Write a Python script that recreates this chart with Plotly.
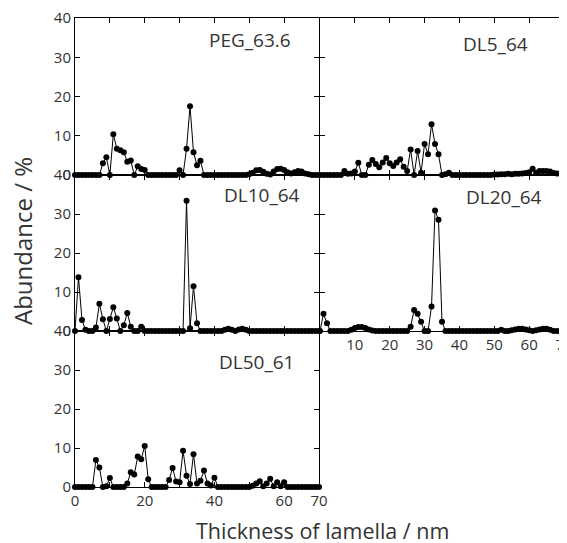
import plotly.graph_objects as go

thickness = list(range(71))

peg_63_6 = [0, 0, 0, 0, 0, 0, 0, 0, 3.0, 4.5,
            0, 10.4, 6.7, 6.3, 5.8, 3.4, 3.7, 0, 2.2, 1.5,
            1.3, 0, 0, 0, 0, 0, 0, 0, 0, 0,
            1.2, 0, 6.7, 17.5, 5.8, 2.5, 3.6, 0, 0, 0,
            0, 0, 0, 0, 0, 0, 0, 0, 0, 0,
            0.2, 0.6, 1.2, 1.3, 0.8, 0.3, 0.1, 0.9, 1.5, 1.6,
            1.3, 0.7, 0.4, 0.7, 1.0, 0.9, 0.4, 0.2, 0, 0,
            0]

dl5_64 = [0, 0, 0, 0, 0, 0, 0, 1.0, 0.3, 0.4,
          0.9, 3.1, 0, 0, 2.6, 3.8, 2.8, 2.0, 3.2, 4.3,
          3.0, 2.3, 3.2, 4.0, 2.1, 1.0, 6.5, 0, 6.1, 0.6,
          7.9, 5.3, 12.9, 7.9, 5.3, 0, 0.2, 0.6, 0, 0,
          0, 0, 0, 0, 0, 0, 0, 0, 0, 0,
          0.1, 0.1, 0.2, 0.2, 0.3, 0.2, 0.3, 0.3, 0.4, 0.5,
          0.7, 1.6, 0.6, 1.0, 1.0, 1.0, 0.9, 0.5, 0.4, 0.4,
          0.3]

dl10_64 = [0, 13.8, 2.8, 0.3, 0, 0, 0.9, 7.0, 3.0, 0,
           3.1, 6.1, 3.2, 0, 1.5, 4.6, 1.1, 0, 0, 1.1,
           0, 0, 0, 0, 0, 0, 0, 0, 0, 0,
           0, 0, 33.4, 0.7, 11.5, 2.0, 0, 0, 0, 0,
           0, 0, 0, 0.3, 0.6, 0.3, 0, 0.4, 0.6, 0.3,
           0, 0, 0, 0, 0, 0, 0, 0, 0, 0,
           0, 0, 0, 0, 0, 0, 0, 0, 0, 0,
           0]

dl20_64 = [0, 4.4, 2.0, 0, 0, 0, 0, 0, 0, 0.3,
           0.8, 1.0, 1.0, 0.8, 0.4, 0.1, 0, 0, 0, 0,
           0, 0, 0, 0, 0, 0, 1.1, 5.4, 4.4, 2.4,
           0, 0, 6.3, 30.9, 28.5, 2.4, 0, 0, 0, 0,
           0, 0, 0, 0, 0, 0, 0, 0, 0, 0,
           0, 0, 0.3, 0, 0, 0.2, 0.4, 0.6, 0.6, 0.4,
           0.2, 0, 0.2, 0.4, 0.6, 0.6, 0.3, 0, 0, 0,
           0]

dl50_61 = [0, 0, 0, 0, 0, 0, 6.9, 5.0, 0, 0.2,
           2.3, 0, 0, 0, 0, 0.9, 3.8, 3.2, 7.8, 7.1,
           10.5, 2.0, 0, 0, 0, 0, 0, 1.8, 4.9, 1.4,
           1.2, 9.3, 2.9, 0.8, 8.4, 0.9, 1.6, 4.2, 0.9, 0.4,
           2.4, 0, 0, 0, 0, 0, 0, 0, 0, 0,
           0, 0.3, 0.9, 1.5, 0.2, 0.9, 2.1, 0.2, 1.2, 0.2,
           1.2, 0, 0, 0, 0, 0, 0, 0, 0, 0,
           0]

panel_names = ["PEG_63.6", "DL5_64", "DL10_64", "DL20_64", "DL50_61"]
series = [peg_63_6, dl5_64, dl10_64, dl20_64, dl50_61]

x_ticks = [0, 10, 20, 30, 40, 50, 60, 70]
x_labels_left = ["0", "", "20", "", "40", "", "60", "70"]
x_labels_right = ["", "10", "20", "30", "40", "50", "60", "70"]
y_ticks = [0, 10, 20, 30, 40]

W, H = 567, 543
OFF = 8  # page body margin offsets the figure inside the window


def px_x(p):
    return (p - OFF) / W


def px_y(p):
    return 1 - (p - OFF) / H


xl = [px_x(75), px_x(319)]
xr = [px_x(320), px_x(564)]
y_top = [px_y(175), px_y(18)]
y_mid = [px_y(331), px_y(175)]
y_bot = [px_y(487), px_y(331)]

domains = [(xl, y_top), (xr, y_top), (xl, y_mid), (xr, y_mid), (xl, y_bot)]

font_family = "Open Sans, Noto Sans, sans-serif"
text_color = "#333333"

fig = go.Figure()
layout = dict(width=W, height=H, margin=dict(l=0, r=0, t=0, b=0, autoexpand=False),
              paper_bgcolor="white", plot_bgcolor="white", showlegend=False,
              font=dict(family=font_family, color=text_color, size=15))

for i, (vals, (dx, dy)) in enumerate(zip(series, domains)):
    n = i + 1
    xa = "x" if n == 1 else f"x{n}"
    ya = "y" if n == 1 else f"y{n}"
    fig.add_trace(go.Scatter(
        x=thickness, y=vals, xaxis=xa, yaxis=ya, mode="lines+markers",
        line=dict(color="black", width=1),
        marker=dict(color="black", size=6),
        cliponaxis=False))
    left = n in (1, 3, 5)
    if n == 4:
        xtl, show_x = x_labels_right, True
    elif n == 5:
        xtl, show_x = x_labels_left, True
    else:
        xtl, show_x = x_labels_left, False
    layout[f"xaxis{'' if n == 1 else n}"] = dict(
        domain=dx, anchor=ya, range=[0, 70], tickvals=x_ticks, ticktext=xtl,
        showticklabels=show_x, ticks="inside", ticklen=5, tickcolor="black",
        showline=True, linecolor="black", linewidth=1, mirror="ticks",
        showgrid=False, zeroline=False, automargin=False,
        ticklabeloverflow="allow",
        tickfont=dict(size=15, color=text_color))
    layout[f"yaxis{'' if n == 1 else n}"] = dict(
        domain=dy, anchor=xa, range=[0, 40], tickvals=y_ticks,
        showticklabels=left, ticks="inside", ticklen=5, tickcolor="black",
        showline=True, linecolor="black", linewidth=1, mirror="ticks",
        showgrid=False, zeroline=False, automargin=False,
        ticklabeloverflow="allow",
        tickfont=dict(size=15, color=text_color))

fig.update_layout(**layout)

label_pos = [(293, 40), (530, 44), (302, 195), (544, 197), (296, 362)]
for name, (px, py) in zip(panel_names, label_pos):
    fig.add_annotation(x=px_x(px), y=px_y(py), xref="paper", yref="paper",
                       text=name, showarrow=False, xanchor="right", yanchor="middle",
                       font=dict(size=19, color=text_color, family=font_family))

fig.add_annotation(x=px_x(322), y=px_y(530), xref="paper", yref="paper",
                   text="Thickness of lamella / nm", showarrow=False,
                   xanchor="center", yanchor="middle",
                   font=dict(size=21.5, color=text_color, family=font_family))
fig.add_annotation(x=px_x(22), y=px_y(241), xref="paper", yref="paper",
                   text="Abundance / %", showarrow=False, textangle=-90,
                   xanchor="center", yanchor="middle",
                   font=dict(size=24, color=text_color, family=font_family))

fig.write_html("out.html")
